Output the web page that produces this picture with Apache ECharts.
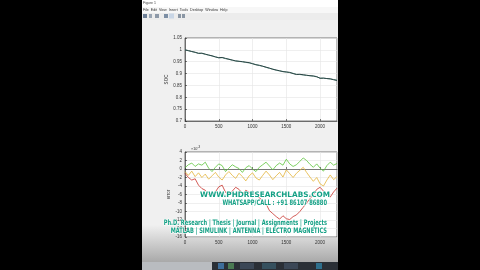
<!DOCTYPE html>
<html><head><meta charset="utf-8">
<script src="https://cdn.jsdelivr.net/npm/echarts@6/dist/echarts.min.js"></script>
<style>html,body{margin:0;padding:0;background:#000}#c{width:480px;height:270px}</style>
</head><body><div id="c"></div>
<script>
// time axis (s)
const timeS = [0,50,100,150,200,250,300,350,400,450,500,550,600,650,700,750,800,850,900,950,1000,1050,1100,1150,1200,1250,1300,1350,1400,1450,1500,1550,1600,1650,1700,1750,1800,1850,1900,1950,2000,2050,2100,2150,2200,2250];
// top plot: SOC
const socTrue = [1.000,0.997,0.993,0.990,0.985,0.986,0.982,0.978,0.975,0.970,0.967,0.968,0.964,0.960,0.957,0.953,0.952,0.950,0.948,0.946,0.942,0.937,0.935,0.931,0.927,0.923,0.918,0.915,0.912,0.908,0.907,0.905,0.900,0.896,0.897,0.895,0.893,0.891,0.890,0.887,0.880,0.881,0.879,0.878,0.874,0.871];
const socEst  = [1.000,0.996,0.993,0.989,0.986,0.985,0.981,0.978,0.974,0.971,0.966,0.967,0.963,0.961,0.956,0.954,0.951,0.950,0.947,0.945,0.941,0.938,0.934,0.931,0.926,0.922,0.919,0.914,0.911,0.909,0.906,0.904,0.901,0.897,0.896,0.894,0.892,0.891,0.889,0.886,0.881,0.880,0.879,0.877,0.875,0.872];
// bottom plot: errors (x10^-3)
const errGreen  = [0.3,1.0,1.4,0.6,1.2,0.9,1.6,0.2,-0.6,0.4,1.2,0.8,-0.6,0.2,1.0,0.5,0.1,-0.8,0.3,0.8,0.0,-0.6,0.4,1.0,1.6,0.7,-0.2,0.8,1.4,0.9,2.3,1.2,0.6,1.0,1.8,2.6,2.0,1.1,0.4,1.2,0.2,-0.5,0.8,1.6,0.9,1.3];
const errYellow = [-0.6,-1.5,-0.5,-1.8,-0.9,-2.0,-1.2,-2.4,-1.6,-0.8,-1.9,-2.6,-1.4,-0.6,-1.5,-2.2,-1.0,-1.8,-2.8,-1.6,-0.9,-2.1,-2.6,-1.5,-0.5,-1.4,-2.5,-1.6,-0.8,-1.9,-0.2,-1.1,-2.0,-1.0,-0.3,0.4,-0.8,-1.9,-2.9,-2.0,-3.5,-4.0,-2.6,-1.4,-2.5,-1.8];
const errRed    = [-1.0,-2.0,-2.6,-2.3,-3.8,-4.6,-5.0,-6.0,-6.2,-5.4,-4.2,-3.8,-5.5,-6.0,-5.2,-4.3,-4.8,-5.8,-5.0,-5.5,-5.2,-6.0,-6.8,-7.4,-8.2,-9.8,-10.5,-11.2,-11.8,-11.0,-11.7,-11.9,-11.2,-10.8,-10.0,-9.0,-8.0,-7.0,-6.0,-4.8,-4.3,-5.2,-6.2,-6.6,-5.4,-4.5];
const menuItems = "File  Edit  View  Insert  Tools  Desktop  Window  Help";
const watermark = ["WWW.PHDRESEARCHLABS.COM","WHATSAPP/CALL : +91 86107 86880","Ph.D. Research | Thesis | Journal | Assignments | Projects","MATLAB | SIMULINK | ANTENNA | ELECTRO MAGNETICS"];

const pairs = (ys) => timeS.map((t,i)=>[t, ys[i]]);
const FONT = 'Liberation Sans';
const tickLab = {fontSize:4.5, color:'#333', fontFamily:FONT, margin:3};
const chart = echarts.init(document.getElementById('c'), null, {renderer:'canvas'});

const wmColor = '#14a085';
const wmStyle = (txt, xr, y, sx) => ({type:'text', z:100, x:xr, y:y, scaleX:sx, originX:0, originY:0,
  style:{text:txt, fill:wmColor, font:'bold 7.5px "DejaVu Sans Condensed"', stroke:'#fff', lineWidth:1.2, align:'right', verticalAlign:'middle'}});

chart.setOption({
  backgroundColor:'#000',
  animation:false,
  graphic:[
    {type:'rect', z:-10, shape:{x:142,y:0,width:196,height:262}, style:{fill:'#f0f0f0'}},
    {type:'rect', z:-9, shape:{x:142,y:0,width:196,height:7}, style:{fill:'#ffffff'}},
    {type:'text', z:-8, left:143, top:1, style:{text:'Figure 1', fill:'#444', font:'3.5px '+FONT}},
    {type:'rect', z:-9, shape:{x:142,y:7,width:196,height:6}, style:{fill:'#f7f7f7'}},
    {type:'text', z:-8, left:143, top:8, style:{text:menuItems, fill:'#333', font:'3.6px '+FONT}},
    {type:'rect', z:-9, shape:{x:142,y:13,width:196,height:7}, style:{fill:'#ececec'}},
    {type:'rect', z:-8, shape:{x:143,y:14,width:4,height:4}, style:{fill:'#6d7f96'}},
    {type:'rect', z:-8, shape:{x:149,y:14,width:3,height:4}, style:{fill:'#9aa6b4'}},
    {type:'rect', z:-8, shape:{x:155,y:14,width:4,height:4}, style:{fill:'#8d99a8'}},
    {type:'rect', z:-8, shape:{x:164,y:14,width:4,height:4}, style:{fill:'#7c8ea4'}},
    {type:'rect', z:-8, shape:{x:169,y:13.5,width:5,height:5}, style:{fill:'#c9d6e6'}},
    {type:'rect', z:-8, shape:{x:178,y:14,width:3,height:4}, style:{fill:'#8a96a4'}},
    {type:'rect', z:-8, shape:{x:182,y:14,width:3,height:4}, style:{fill:'#8a96a4'}},
    {type:'rect', z:-9, shape:{x:142,y:225,width:196,height:37},
      style:{fill:{type:'linear',x:0,y:0,x2:0,y2:1,colorStops:[{offset:0,color:'#f0f0f0'},{offset:1,color:'#a9a9a9'}]}}},
    {type:'rect', z:-8, shape:{x:142,y:262,width:196,height:8}, style:{fill:'#2a2f36'}},
    {type:'rect', z:-7, shape:{x:142,y:262,width:70,height:8}, style:{fill:'#b9bcc0'}},
    {type:'rect', z:-7, shape:{x:218,y:263,width:6,height:6}, style:{fill:'#3d6d9a'}},
    {type:'rect', z:-7, shape:{x:228,y:263,width:6,height:6}, style:{fill:'#4a7a52'}},
    {type:'rect', z:-7, shape:{x:240,y:263,width:14,height:6}, style:{fill:'#3b4756'}},
    {type:'rect', z:-7, shape:{x:262,y:263,width:14,height:6}, style:{fill:'#35505e'}},
    {type:'rect', z:-7, shape:{x:284,y:263,width:14,height:6}, style:{fill:'#3b4756'}},
    {type:'rect', z:-7, shape:{x:316,y:263,width:6,height:6}, style:{fill:'#2e6f8c'}},
    {type:'text', z:-6, left:191, top:147, style:{text:'×10', fill:'#333', font:'3.8px '+FONT}},
    {type:'text', z:-6, left:197.5, top:145.5, style:{text:'-3', fill:'#333', font:'3px '+FONT}},
    wmStyle(watermark[0], 330, 195, 1.08),
    wmStyle(watermark[1], 327, 203, 0.76),
    wmStyle(watermark[2], 327, 223, 0.75),
    wmStyle(watermark[3], 327, 231, 0.755)
  ],
  grid:[
    {left:185, top:38, width:152, height:83, show:true, backgroundColor:'#fff', borderColor:'#262626', borderWidth:0.6},
    {left:185, top:152, width:152, height:85, show:true, backgroundColor:'#fff', borderColor:'#262626', borderWidth:0.6}
  ],
  xAxis:[
    {gridIndex:0, type:'value', min:0, max:2250, interval:500,
     axisLine:{lineStyle:{color:'#262626', width:0.6}}, axisTick:{inside:true, length:2, lineStyle:{color:'#262626',width:0.6}},
     axisLabel:Object.assign({showMaxLabel:false, formatter:v=>String(v)}, tickLab), splitLine:{show:true, lineStyle:{color:'#e4e4e4', width:0.6}}},
    {gridIndex:1, type:'value', min:0, max:2250, interval:500,
     axisLine:{lineStyle:{color:'#262626', width:0.6}}, axisTick:{inside:true, length:2, lineStyle:{color:'#262626',width:0.6}},
     axisLabel:Object.assign({showMaxLabel:false, formatter:v=>String(v)}, tickLab), splitLine:{show:true, lineStyle:{color:'#e4e4e4', width:0.6}}}
  ],
  yAxis:[
    {gridIndex:0, type:'value', min:0.7, max:1.05, interval:0.05, name:'SOC', nameLocation:'middle', nameGap:10,
     nameTextStyle:{fontSize:4.5, color:'#333', fontFamily:FONT},
     axisLine:{show:true, lineStyle:{color:'#262626', width:0.6}}, axisTick:{show:true, inside:true, length:2, lineStyle:{color:'#262626',width:0.6}},
     axisLabel:Object.assign({formatter:v=>String(+v.toFixed(2))}, tickLab), splitLine:{show:true, lineStyle:{color:'#e4e4e4', width:0.6}}},
    {gridIndex:1, type:'value', min:-16, max:4, interval:2, name:'error', nameLocation:'middle', nameGap:10,
     nameTextStyle:{fontSize:4.5, color:'#333', fontFamily:FONT},
     axisLine:{show:true, lineStyle:{color:'#262626', width:0.6}}, axisTick:{show:true, inside:true, length:2, lineStyle:{color:'#262626',width:0.6}},
     axisLabel:tickLab, splitLine:{show:true, lineStyle:{color:'#e4e4e4', width:0.6}}}
  ],
  series:[
    {type:'line', xAxisIndex:0, yAxisIndex:0, data:pairs(socEst), showSymbol:false, lineStyle:{color:'#6f9c90', width:1}},
    {type:'line', xAxisIndex:0, yAxisIndex:0, data:pairs(socTrue), showSymbol:false, lineStyle:{color:'#2b4545', width:1}},
    {type:'line', xAxisIndex:1, yAxisIndex:1, data:pairs(errYellow), showSymbol:false, lineStyle:{color:'#e3b43a', width:0.8}},
    {type:'line', xAxisIndex:1, yAxisIndex:1, data:pairs(errGreen), showSymbol:false, lineStyle:{color:'#5cc43a', width:0.8}},
    {type:'line', xAxisIndex:1, yAxisIndex:1, data:pairs(errRed), showSymbol:false, lineStyle:{color:'#c8322c', width:0.8}}
  ]
});
</script></body></html>
